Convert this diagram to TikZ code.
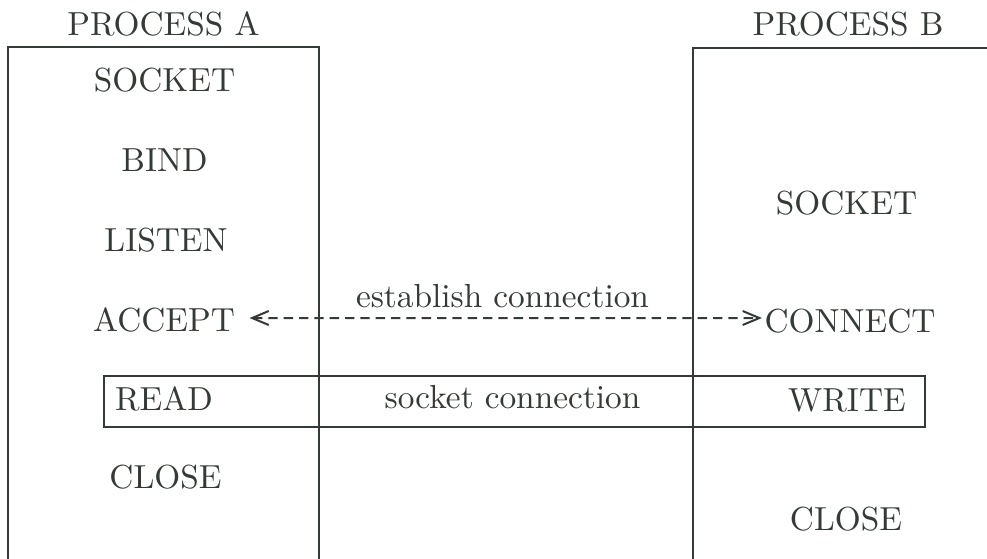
\documentclass[tikz,border=0pt]{standalone}
\usetikzlibrary{arrows.meta}
\definecolor{ink}{RGB}{52,58,54}
\begin{document}
\begin{tikzpicture}[x=0.3pt,y=-0.3pt,
  every node/.style={text=ink,font=\normalsize},
  frame/.style={draw=ink,line width=0.65pt},
  label/.style={inner sep=0pt},
  link/.style={draw=ink,line width=0.6pt,dash pattern=on 2.8pt off 1.8pt,
    {Straight Barb[length=5pt,width=4.2pt]}-{Straight Barb[length=5pt,width=4.2pt]}}]
  \useasboundingbox (0,0) rectangle (987,558);
  \clip (0,0) rectangle (987,558);
  \fill[white] (0,0) rectangle (987,558);

  % process frames (run past the page edges)
  \draw[frame] (8,575) -- (8,47) -- (319,47) -- (319,575);
  \draw[frame] (693,575) -- (693,48) -- (1000,48);

  % socket connection band
  \draw[frame] (104,376) rectangle (925,427);

  % titles
  \node[label] (titleA) at (163.5,23.5) {PROCESS A};
  \node[label] (titleB) at (848,24) {PROCESS B};

  % process A calls
  \node[label] (sockA)   at (164.5,80)  {SOCKET};
  \node[label] (bind)    at (164.5,160) {BIND};
  \node[label] (listen)  at (166,240)   {LISTEN};
  \node[label] (accept)  at (164,320)   {ACCEPT};
  \node[label] (read)    at (164,399)   {READ};
  \node[label] (closeA)  at (165.5,477.5) {CLOSE};

  % process B calls
  \node[label] (sockB)   at (846.5,203.5) {SOCKET};
  \node[label] (connect) at (850,321)   {CONNECT};
  \node[label] (write)   at (847,400)   {WRITE};
  \node[label] (closeB)  at (846,519.5) {CLOSE};

  % connection labels
  \node[label] (estab) at (502.5,296) {establish connection};
  \node[label] (sockc) at (512.5,397.5) {socket connection};

  % handshake
  \draw[link] ([xshift=4.2pt,yshift=0.6pt]accept.east) -- ([xshift=-0.6pt,yshift=0.9pt]connect.west);
\end{tikzpicture}
\end{document}
